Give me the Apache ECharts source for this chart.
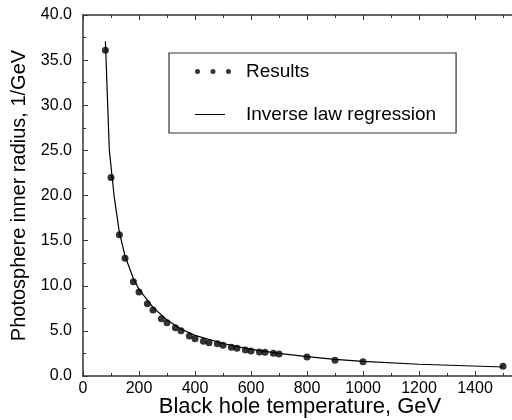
<!DOCTYPE html>
<html>
<head>
<meta charset="utf-8">
<script src="https://cdn.jsdelivr.net/npm/echarts@6/dist/echarts.min.js"></script>
<style>
  html, body { margin: 0; padding: 0; background: #fff; }
  #chart { width: 512px; height: 420px; }
</style>
</head>
<body>
<div id="chart"></div>
<script>
// 测得的数据点
const resultTemps = [80, 100, 130, 150, 180, 200, 230, 250, 280, 300, 330, 350, 380, 400,
  430, 450, 480, 500, 530, 550, 580, 600, 630, 650, 680, 700, 800, 900, 1000, 1500];
const resultRadii = [36.1, 22.0, 15.65, 13.05, 10.45, 9.3, 8.0, 7.3, 6.35, 5.9, 5.35, 5.02, 4.43, 4.14,
  3.84, 3.69, 3.58, 3.4, 3.18, 3.07, 2.88, 2.77, 2.66, 2.62, 2.51, 2.44, 2.1, 1.74, 1.59, 1.07];

// 回归曲线（从图上读取的折线节点）
const fitTemps = [80, 94, 112, 130, 150, 180, 200, 250, 300, 350, 400, 500, 600, 700, 800, 900, 1000, 1200, 1500];
const fitRadii = [37.1, 25.0, 19.7, 15.9, 13.3, 10.8, 9.6, 7.6, 6.2, 5.2, 4.5, 3.6, 2.95, 2.5, 2.15, 1.85, 1.63, 1.3, 1.0];

const xTickStep = 200;
const yTickStep = 5;

const zip = (xs, ys) => xs.map((x, i) => [x, ys[i]]);

const chart = echarts.init(document.getElementById("chart"));

const axisColor = "#333";
const font = "Liberation Sans, Arial, sans-serif";

// 图例里的三个点
const dotsIcon = "path://M0,2.5a2.5,2.5 0 1,0 5,0a2.5,2.5 0 1,0 -5,0z M15.5,2.5a2.5,2.5 0 1,0 5,0a2.5,2.5 0 1,0 -5,0z M31,2.5a2.5,2.5 0 1,0 5,0a2.5,2.5 0 1,0 -5,0z";
// 图例里的细线（角上两个极小方块只是为了撑开包围盒）
const thinLineIcon = "path://M0,0h0.01v0.01h-0.01z M0,2h30v1h-30z M35.99,4.99h0.01v0.01h-0.01z";

const tickStyle = { color: axisColor, width: 1 };
const lineStyle = { color: axisColor, width: 1.5 };

const option = {
  animation: false,
  textStyle: { fontFamily: font, color: "#000" },
  grid: { left: 83, top: 15, bottom: 44, right: -5, outerBoundsMode: "none" },
  legend: {
    orient: "vertical",
    left: 169,
    top: 53,
    padding: [9, 20, 9, 26],
    itemGap: 24,
    itemWidth: 36,
    itemHeight: 5,
    borderColor: "#333",
    borderWidth: 1.2,
    textStyle: { fontSize: 19, color: "#000", fontFamily: font, padding: [0, 0, 0, 10] },
    data: [
      { name: "Results", icon: dotsIcon, itemStyle: { color: "#000" } },
      { name: "Inverse law regression", icon: thinLineIcon, itemStyle: { color: "#000" } },
    ],
  },
  xAxis: [
    {
      type: "value",
      min: 0,
      max: 1550,
      interval: xTickStep,
      name: "Black hole temperature, GeV",
      nameLocation: "middle",
      nameGap: 20,
      nameMoveOverlap: false,
      nameTextStyle: { fontSize: 22, color: "#000", fontFamily: font },
      axisLine: { onZero: false, lineStyle: lineStyle },
      axisTick: { inside: true, length: 5, lineStyle: tickStyle },
      minorTick: { show: true, splitNumber: 2, length: 3, lineStyle: tickStyle },
      axisLabel: {
        fontSize: 16,
        color: "#000",
        margin: 5,
        formatter: (v) => (v % xTickStep === 0 ? String(v) : ""),
      },
      splitLine: { show: false },
    },
    {
      type: "value",
      position: "top",
      min: 0,
      max: 1550,
      interval: xTickStep,
      axisLine: { show: true, onZero: false, lineStyle: lineStyle },
      axisTick: { show: true, inside: true, length: 5, lineStyle: tickStyle },
      minorTick: { show: true, splitNumber: 2, length: 3, lineStyle: tickStyle },
      axisLabel: { show: false },
      splitLine: { show: false },
    },
  ],
  yAxis: [
    {
      type: "value",
      min: 0,
      max: 40,
      interval: yTickStep,
      name: "Photosphere inner radius, 1/GeV",
      nameLocation: "middle",
      nameGap: 54,
      nameTextStyle: { fontSize: 20, color: "#000", fontFamily: font },
      axisLine: { show: true, onZero: false, lineStyle: lineStyle },
      axisTick: { show: true, inside: true, length: 5, lineStyle: tickStyle },
      minorTick: { show: true, splitNumber: 2, length: 3, lineStyle: tickStyle },
      axisLabel: { fontSize: 16, color: "#000", margin: 11, formatter: (v) => v.toFixed(1) },
      splitLine: { show: false },
    },
    {
      type: "value",
      position: "right",
      min: 0,
      max: 40,
      interval: yTickStep,
      axisLine: { show: true, onZero: false, lineStyle: lineStyle },
      axisTick: { show: true, inside: true, length: 5, lineStyle: tickStyle },
      minorTick: { show: true, splitNumber: 2, length: 3, lineStyle: tickStyle },
      axisLabel: { show: false },
      splitLine: { show: false },
    },
  ],
  series: [
    {
      name: "Results",
      type: "scatter",
      symbol: "circle",
      symbolSize: 7,
      itemStyle: { color: "#000" },
      data: zip(resultTemps, resultRadii),
      z: 3,
    },
    {
      name: "Inverse law regression",
      type: "line",
      symbol: "none",
      smooth: false,
      lineStyle: { color: "#000", width: 1.2 },
      itemStyle: { color: "#000" },
      data: zip(fitTemps, fitRadii),
      z: 2,
    },
    {
      // 让顶部和右侧坐标轴也显示出来
      name: "frame",
      type: "scatter",
      xAxisIndex: 1,
      yAxisIndex: 1,
      symbolSize: 0,
      silent: true,
      data: [],
    },
  ],
};

chart.setOption(option);
</script>
</body>
</html>
